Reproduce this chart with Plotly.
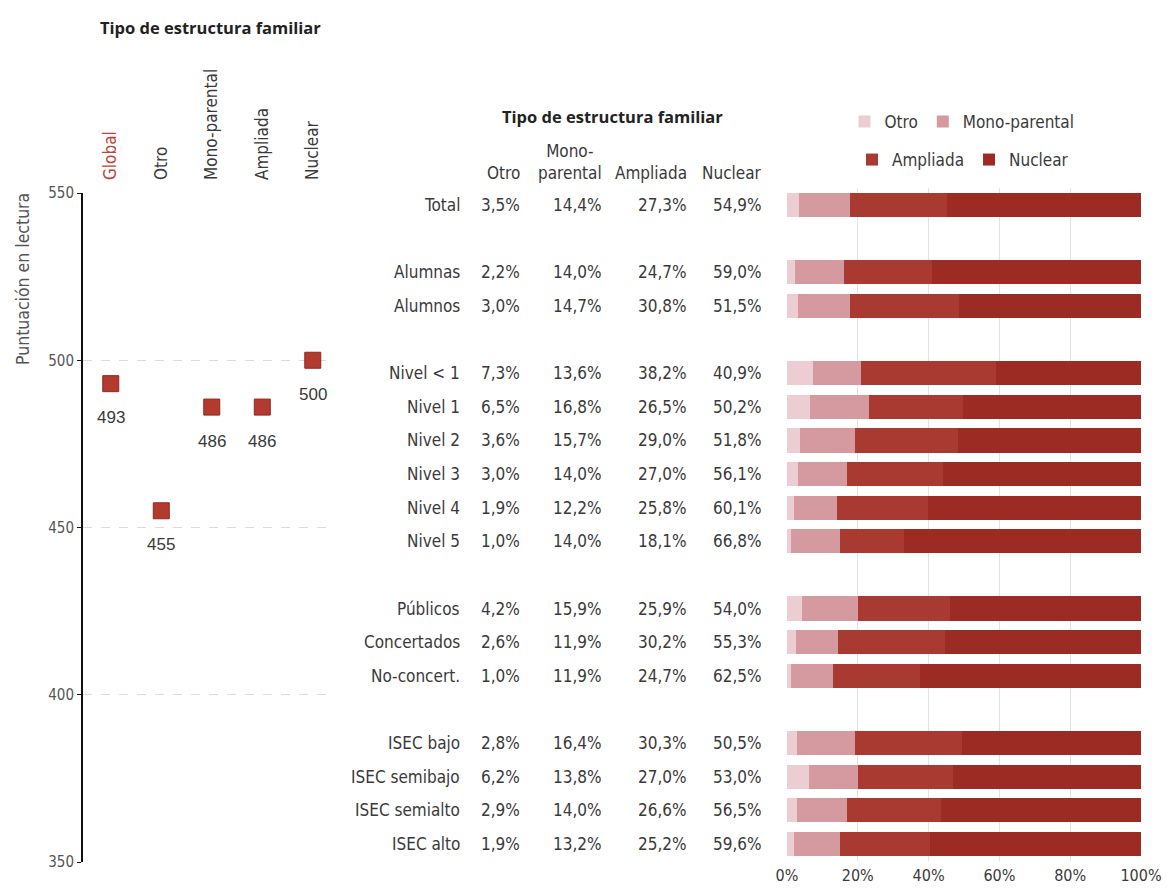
import plotly.graph_objects as go

# ---------------- Data ----------------
score_categories = ["Global", "Otro", "Mono-parental", "Ampliada", "Nuclear"]
score_values = [493, 455, 486, 486, 500]

family_types = ["Otro", "Mono-parental", "Ampliada", "Nuclear"]
header_labels = ["Otro", "Mono-<br>parental", "Ampliada", "Nuclear"]

groups = [
    ["Total"],
    ["Alumnas", "Alumnos"],
    ["Nivel < 1", "Nivel 1", "Nivel 2", "Nivel 3", "Nivel 4", "Nivel 5"],
    ["Públicos", "Concertados", "No-concert."],
    ["ISEC bajo", "ISEC semibajo", "ISEC semialto", "ISEC alto"],
]

otro = [3.5, 2.2, 3.0, 7.3, 6.5, 3.6, 3.0, 1.9, 1.0, 4.2, 2.6, 1.0, 2.8, 6.2, 2.9, 1.9]
monoparental = [14.4, 14.0, 14.7, 13.6, 16.8, 15.7, 14.0, 12.2, 14.0, 15.9, 11.9, 11.9, 16.4, 13.8, 14.0, 13.2]
ampliada = [27.3, 24.7, 30.8, 38.2, 26.5, 29.0, 27.0, 25.8, 18.1, 25.9, 30.2, 24.7, 30.3, 27.0, 26.6, 25.2]
nuclear = [54.9, 59.0, 51.5, 40.9, 50.2, 51.8, 56.1, 60.1, 66.8, 54.0, 55.3, 62.5, 50.5, 53.0, 56.5, 59.6]

pct_ticks = [0, 20, 40, 60, 80, 100]

# ---------------- Styles / layout helpers ----------------
colors = ["#ebcdd2", "#d59a9f", "#a93a31", "#9b2b23"]
marker_color = "#b23a2e"
text_color = "#3a3a3a"
narrow = "Liberation Sans Narrow, Arial Narrow, DejaVu Sans Condensed, sans-serif"
bold = "Open Sans, Liberation Sans, Arial, sans-serif"

# page body has an 8px margin: figure sized to fit the 1171x892 window
OFF = 8
W, H = 1171 - 2 * OFF, 892 - 2 * OFF


def fx(px):
    return (px - OFF) / W


def fy(py):
    return 1 - (py - OFF) / H


# row slots: one blank row between groups
row_labels = []
row_slots = []
slot = 0
for gi, g in enumerate(groups):
    if gi > 0:
        slot += 1
    for lab in g:
        row_labels.append(lab)
        row_slots.append(slot)
        slot += 1
n_slots = slot

fig = go.Figure()

# ---------------- Left: scores ----------------
fig.add_trace(go.Scatter(
    x=score_categories, y=score_values, mode="markers",
    marker=dict(symbol="square", size=16, color=marker_color,
                line=dict(color="#8e2a20", width=1)),
    xaxis="x", yaxis="y", showlegend=False, hoverinfo="x+y",
))
for c, v in zip(score_categories, score_values):
    fig.add_annotation(x=c, y=v, xref="x", yref="y", text=str(v), showarrow=False,
                       xanchor="center", yanchor="middle", yshift=-34,
                       font=dict(family="Liberation Sans, Arial, sans-serif",
                                 size=17, color=text_color))

# ---------------- Right: stacked bars ----------------
series = [otro, monoparental, ampliada, nuclear]
legend_ids = ["legend", "legend", "legend2", "legend2"]
for name, vals, col, lg in zip(family_types, series, colors, legend_ids):
    fig.add_trace(go.Bar(
        x=vals, y=row_slots, orientation="h", name=name,
        marker=dict(color=col, line=dict(width=0)), width=0.72,
        xaxis="x2", yaxis="y2", legend=lg,
    ))

# table text
col_right = [fx(522), fx(604), fx(689), fx(764)]
label_right = fx(462)
for lab, s in zip(row_labels, row_slots):
    fig.add_annotation(x=label_right, y=s, xref="paper", yref="y2", text=lab,
                       showarrow=False, xanchor="right", yanchor="middle",
                       font=dict(family=narrow, size=17, color=text_color))
for ci, vals in enumerate(series):
    for v, s in zip(vals, row_slots):
        fig.add_annotation(x=col_right[ci], y=s, xref="paper", yref="y2",
                           text=f"{v:.1f}".replace(".", ",") + "%",
                           showarrow=False, xanchor="right", yanchor="middle",
                           font=dict(family=narrow, size=17, color=text_color))
for ci, h in enumerate(header_labels):
    fig.add_annotation(x=col_right[ci], y=fy(185), xref="paper", yref="paper",
                       text=h, showarrow=False, xanchor="right", yanchor="bottom",
                       align="center",
                       font=dict(family=narrow, size=17, color=text_color))

# titles
fig.add_annotation(x=fx(210), y=fy(27), xref="paper", yref="paper",
                   text="<b>Tipo de estructura familiar</b>", showarrow=False,
                   xanchor="center", yanchor="middle",
                   font=dict(family=bold, size=16.5, color="#222"))
fig.add_annotation(x=fx(612), y=fy(117), xref="paper", yref="paper",
                   text="<b>Tipo de estructura familiar</b>", showarrow=False,
                   xanchor="center", yanchor="middle",
                   font=dict(family=bold, size=16.5, color="#222"))
fig.add_annotation(x=fx(23), y=fy(279), xref="paper", yref="paper",
                   text="Puntuación en lectura", showarrow=False, textangle=-90,
                   xanchor="center", yanchor="middle",
                   font=dict(family=narrow, size=17.5, color="#555"))

ticktext_cat = ['<span style="color:#c0433a">Global</span>'] + score_categories[1:]

fig.update_layout(
    width=W, height=H,
    margin=dict(l=0, r=0, t=0, b=0, autoexpand=False),
    paper_bgcolor="white", plot_bgcolor="white",
    barmode="stack",
    xaxis=dict(domain=[fx(83), fx(335)], type="category",
               range=[-0.55, 4.44], side="top", tickangle=-90,
               tickmode="array", tickvals=score_categories, ticktext=ticktext_cat,
               showgrid=False, showline=False, zeroline=False, ticks="",
               ticklabelstandoff=12, automargin=False,
               tickfont=dict(family=narrow, size=17, color=text_color)),
    yaxis=dict(domain=[fy(862), fy(193)], range=[350, 550],
               tickvals=[350, 400, 450, 500, 550], automargin=False,
               showline=True, linecolor="#111", linewidth=2,
               ticks="outside", ticklen=4, tickcolor="#111",
               showgrid=True, gridcolor="#dcdcdc", griddash="dash", gridwidth=1,
               zeroline=False,
               tickfont=dict(family=narrow, size=15, color="#555")),
    xaxis2=dict(domain=[fx(787), fx(1141)], range=[0, 100], anchor="y2",
                tickvals=pct_ticks, ticktext=[f"{t}%" for t in pct_ticks],
                showgrid=True, gridcolor="#e2e2e2", gridwidth=1, automargin=False,
                zeroline=False, showline=False, ticks="", ticklabelstandoff=3,
                tickfont=dict(family=narrow, size=16, color=text_color)),
    yaxis2=dict(domain=[fy(860.8), fy(188.2)],
                range=[n_slots - 0.5, -0.5], anchor="x2", automargin=False,
                showticklabels=False, showgrid=False, zeroline=False, showline=False),
    legend=dict(orientation="h", x=fx(962), y=fy(122),
                xanchor="center", yanchor="middle", traceorder="normal",
                font=dict(family=narrow, size=17, color=text_color),
                itemwidth=30, bgcolor="rgba(0,0,0,0)"),
    legend2=dict(orientation="h", x=fx(963), y=fy(160),
                 xanchor="center", yanchor="middle", traceorder="normal",
                 font=dict(family=narrow, size=17, color=text_color),
                 itemwidth=30, bgcolor="rgba(0,0,0,0)"),
)

fig.write_html("out.html")
